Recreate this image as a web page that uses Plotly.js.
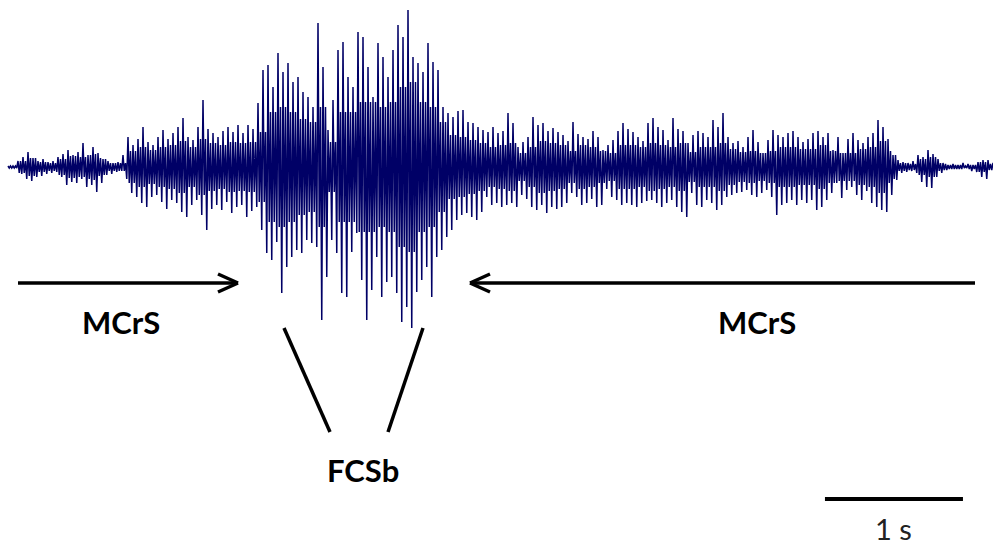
<!DOCTYPE html>
<html>
<head>
<meta charset="utf-8">
<script src="https://cdn.plot.ly/plotly-3.0.1.min.js"></script>
<style>
  html, body { margin: 0; padding: 0; background: #ffffff; }
  #chart { width: 993px; height: 545px; }
</style>
</head>
<body>
<div id="chart"></div>
<script>
// Sampling: one positive and one negative peak every 5/138 s (138 px = 1 s in the figure)
const sampleInterval = 5 / 138; // seconds

// Positive peak excursions (a.u.), left to right
const upperPeaks = [
  1,1,6,10,15,9,6,8,5,6,
  10,13,17,12,15,24,12,20,14,8,
  6,4,5,12,30,22,28,40,25,22,
  30,37,28,34,40,49,30,27,40,67,
  38,34,30,36,40,35,42,34,42,38,
  64,97,102,80,114,95,104,85,90,75,
  70,60,144,100,37,67,117,125,90,80,
  135,130,100,70,124,110,90,117,142,130,
  157,110,104,95,124,105,97,60,54,50,
  56,57,45,44,40,37,35,40,34,36,
  54,44,20,25,30,50,42,44,36,39,
  35,32,26,45,33,30,28,36,30,17,
  22,27,36,44,38,35,30,26,44,49,
  40,37,27,49,38,36,24,32,36,34,
  30,47,40,54,30,24,26,20,30,37,
  25,14,27,37,32,30,34,36,30,25,
  28,34,36,30,34,17,30,14,28,34,
  27,24,30,34,47,40,28,12,7,5,
  4,6,12,10,17,13,8,4,2,3,
  2,4,3,2,5,7,7,4
];

// Negative peak excursions (magnitudes, a.u.), left to right
const lowerPeaks = [
  1,1,7,12,14,10,9,7,6,5,
  10,18,15,16,12,20,18,25,16,8,
  7,5,4,12,26,30,36,40,30,28,
  35,42,33,36,45,50,38,33,48,63,
  42,38,43,35,46,40,38,50,44,40,
  63,86,93,75,126,100,90,83,86,73,
  76,80,153,110,73,86,126,130,85,66,
  113,153,123,90,130,115,110,126,155,140,
  161,125,113,100,130,90,83,70,63,53,
  48,46,50,53,45,30,38,36,40,38,
  36,40,28,32,40,43,38,46,40,42,
  40,36,26,30,38,36,32,40,38,22,
  30,33,38,36,38,40,36,34,33,36,
  40,36,33,40,45,50,26,38,40,33,
  36,43,38,30,28,26,25,23,28,30,
  26,23,30,48,38,36,33,38,33,36,
  33,43,40,33,26,16,31,23,20,28,
  33,24,36,40,43,45,28,13,6,5,
  4,6,15,20,21,10,6,3,2,2,
  2,1,4,5,10,12,3,2
];

// Amplitude of the dense (solid) core of the signal, every 10/138 s
const coreAmplitude = [
  1,6,9,5,4,8,11,10,13,9,
  4,4,16,20,17,20,22,26,20,28,
  24,22,25,24,25,35,55,60,55,48,
  45,60,25,55,55,65,65,60,65,80,
  85,65,60,45,32,30,27,24,20,22,
  24,14,20,26,24,22,16,22,20,16,
  14,22,22,20,24,22,20,24,15,20,
  20,24,18,15,16,14,16,20,20,18,
  18,22,16,14,14,18,20,26,16,4,
  3,8,10,4,2,2,2,5,4
];

// Labels
const labelMCrS = "MCrS";
const labelFCSb = "FCSb";
const scaleLabel = "1 s";
const scaleBarSeconds = 1;
const scaleBarStart = 5.92; // s

const t = [], v = [];
for (let i = 0; i < upperPeaks.length; i++) {
  const c = Math.min(coreAmplitude[Math.floor(i / 2)], upperPeaks[i], lowerPeaks[i]);
  const t0 = i * sampleInterval, q = sampleInterval / 4;
  t.push(t0);         v.push(upperPeaks[i]);
  t.push(t0 + q);     v.push(-c);
  t.push(t0 + 2 * q); v.push(c);
  t.push(t0 + 3 * q); v.push(-lowerPeaks[i]);
}

const W = 993, H = 545;
const px = x => x / W;
const py = y => 1 - y / H;
const black = '#000000';
const lineW = 3.5;

function seg(x0, y0, x1, y1, w) {
  return { type: 'line', xref: 'paper', yref: 'paper',
           x0: px(x0), y0: py(y0), x1: px(x1), y1: py(y1),
           line: { color: black, width: w || lineW } };
}

const shapes = [
  // left arrow
  seg(18, 283, 237, 283),
  seg(218, 274, 238, 283),
  seg(218, 292, 238, 283),
  // right arrow
  seg(975, 283, 471, 283),
  seg(490, 274, 470, 283),
  seg(490, 292, 470, 283),
  // FCSb lines
  seg(284, 328, 330, 432),
  seg(423, 328, 388, 432),
  // scale bar (1 s, data coordinates in x)
  { type: 'line', xref: 'x', yref: 'paper',
    x0: scaleBarStart, x1: scaleBarStart + scaleBarSeconds,
    y0: py(499), y1: py(499), line: { color: black, width: 4 } }
];

const fontBold = { family: 'Lato, "Open Sans", sans-serif', size: 31, color: '#000000', weight: 700 };
const annotations = [
  { xref: 'paper', yref: 'paper', x: px(121), y: py(322), text: '<b>' + labelMCrS + '</b>',
    showarrow: false, font: fontBold, xanchor: 'center', yanchor: 'middle' },
  { xref: 'paper', yref: 'paper', x: px(757), y: py(322), text: '<b>' + labelMCrS + '</b>',
    showarrow: false, font: fontBold, xanchor: 'center', yanchor: 'middle' },
  { xref: 'paper', yref: 'paper', x: px(363), y: py(470), text: '<b>' + labelFCSb + '</b>',
    showarrow: false, font: fontBold, xanchor: 'center', yanchor: 'middle' },
  { xref: 'x', yref: 'paper', x: scaleBarStart + scaleBarSeconds / 2, y: py(528), text: scaleLabel,
    showarrow: false, font: { family: 'Lato, "Open Sans", sans-serif', size: 29, color: '#222222' },
    xanchor: 'center', yanchor: 'middle' }
];

const trace = {
  type: 'scatter', mode: 'lines', x: t, y: v,
  line: { color: '#000066', width: 1.5, simplify: false },
  hoverinfo: 'skip'
};

const layout = {
  width: W, height: H,
  margin: { l: 0, r: 0, t: 0, b: 0, pad: 0 },
  paper_bgcolor: '#ffffff', plot_bgcolor: '#ffffff',
  showlegend: false,
  xaxis: { range: [-8 / 138, 985 / 138], visible: false, fixedrange: true },
  yaxis: { range: [167 - 545, 167], visible: false, fixedrange: true },
  shapes: shapes,
  annotations: annotations
};

Plotly.newPlot('chart', [trace], layout, { staticPlot: true, displayModeBar: false });
</script>
</body>
</html>
